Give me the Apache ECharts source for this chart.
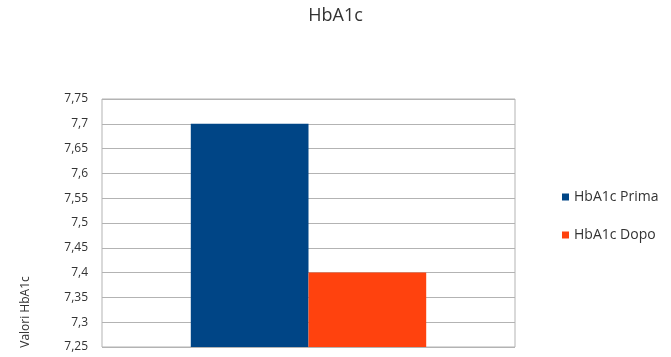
<!DOCTYPE html>
<html>
<head>
<meta charset="utf-8">
<script src="https://cdn.jsdelivr.net/npm/echarts@6/dist/echarts.min.js"></script>
<style>
  html, body { margin: 0; padding: 0; background: #fff; }
  #chart { width: 671px; height: 357px; }
</style>
</head>
<body>
<div id="chart"></div>
<script>
// dati
const categories = [""];
const seriesNames = ["HbA1c Prima", "HbA1c Dopo"];
const primaValues = [7.7];
const dopoValues = [7.4];
const yTicks = ["7,25", "7,3", "7,35", "7,4", "7,45", "7,5", "7,55", "7,6", "7,65", "7,7", "7,75"];

const chart = echarts.init(document.getElementById("chart"));

const option = {
  animation: false,
  textStyle: { fontFamily: "Open Sans" },
  title: {
    text: "HbA1c",
    left: "center",
    top: 2,
    textStyle: { fontSize: 18, fontWeight: "normal", color: "#333" },
  },
  legend: {
    orient: "vertical",
    left: 557,
    top: 185,
    itemWidth: 7,
    itemHeight: 7,
    itemGap: 24,
    icon: "rect",
    textStyle: { fontSize: 14, color: "#333" },
    data: seriesNames,
  },
  grid: {
    left: 102,
    right: 156,
    top: 99,
    bottom: 10,
    show: true,
    borderColor: "#b3b3b3",
    borderWidth: 1,
  },
  xAxis: {
    type: "category",
    data: categories,
    axisLine: { show: false },
    axisTick: { show: false },
    axisLabel: { show: false },
  },
  yAxis: {
    type: "value",
    min: 7.25,
    max: 7.75,
    interval: 0.05,
    name: "Valori HbA1c",
    nameLocation: "middle",
    nameRotate: 90,
    nameGap: 70,
    nameTextStyle: { fontSize: 12, color: "#333", padding: [0, 178, 0, 0] },
    axisLine: { show: false },
    axisTick: { show: false },
    axisLabel: {
      fontSize: 12,
      color: "#333",
      margin: 14,
      formatter: (v) => yTicks[Math.round((v - 7.25) / 0.05)],
    },
    splitLine: { lineStyle: { color: "#b3b3b3" } },
  },
  series: [
    {
      name: seriesNames[0],
      type: "bar",
      data: primaValues,
      itemStyle: { color: "#004586" },
      barGap: "0%",
      barCategoryGap: "43%",
    },
    {
      name: seriesNames[1],
      type: "bar",
      data: dopoValues,
      itemStyle: { color: "#ff420e" },
    },
  ],
};

chart.setOption(option);
</script>
</body>
</html>
